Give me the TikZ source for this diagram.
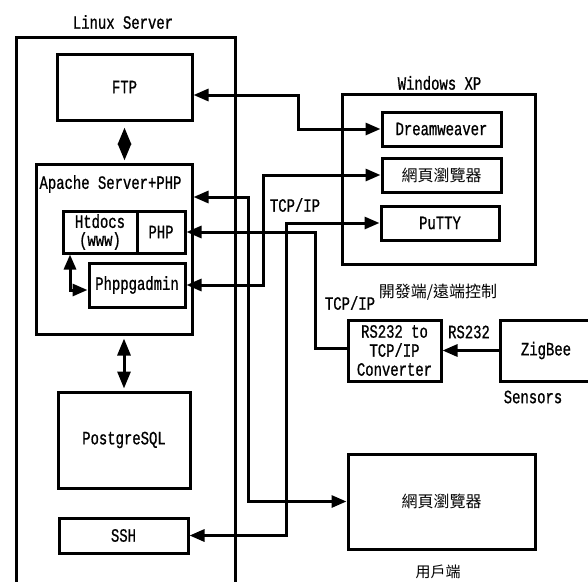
\documentclass[tikz,border=0pt]{standalone}
\usepackage{fontspec}
\setmainfont{Liberation Mono}[FakeStretch=0.74,FakeBold=0.8]
\newfontfamily\cjk{Noto Sans CJK TC}
\usetikzlibrary{arrows.meta}

\begin{document}
\begin{tikzpicture}[x=1pt,y=-1pt,
    every node/.style={font=\fontsize{18.8}{18}\selectfont},
    box/.style={draw,line width=3pt,inner sep=0pt,align=center},
    link/.style={line width=3pt},
    >={Triangle[length=15pt,width=12pt]}]
    \useasboundingbox (0,0) rectangle (588,581);

    % Linux server side
    \node[box,minimum width=219pt,minimum height=583pt] (linux) at (125.5,328.5) {};
    \node (linuxlbl) at (123,22) {Linux Server};
    \node[box,minimum width=135pt,minimum height=66pt] (ftp) at (124.5,87) {FTP};
    \node[box,minimum width=156pt,minimum height=170pt] (apache) at (114,249) {};
    \node (apachelbl) at (110.5,184) {Apache Server+PHP};
    \node[box,minimum width=74pt,minimum height=42pt,font=\fontsize{18.8}{18}\selectfont] (htdocs) at (100,232) {Htdocs\\(www)};
    \node[box,minimum width=48pt,minimum height=42pt] (php) at (161,232) {PHP};
    \node[box,minimum width=96pt,minimum height=44pt] (pgadmin) at (137,285) {Phppgadmin};
    \node[box,minimum width=132pt,minimum height=96pt] (postgres) at (124,440) {PostgreSQL};
    \node[box,minimum width=129pt,minimum height=35pt] (ssh) at (123.5,535.5) {SSH};

    % Windows XP side
    \node[box,minimum width=193pt,minimum height=170pt] (winxp) at (438.5,179) {};
    \node (winxplbl) at (439.5,83) {Windows XP};
    \node[box,minimum width=119pt,minimum height=34pt] (dream) at (441.5,129) {Dreamweaver};
    \node[box,minimum width=119pt,minimum height=34pt] (wbrowser) at (441.5,175) {\cjk\fontsize{16}{18}\selectfont 網頁瀏覽器};
    \node[box,minimum width=118pt,minimum height=34pt] (putty) at (440,223) {PuTTY};
    \node (devlbl) at (438,292) {\cjk\fontsize{16}{18}\selectfont 開發端/遠端控制};

    % sensors
    \node[box,minimum width=93pt,minimum height=61pt,font=\fontsize{18.8}{19}\selectfont] (conv) at (394.5,350.5) {RS232 to\\TCP/IP\\Converter};
    \node[box,minimum width=92pt,minimum height=61pt] (zigbee) at (546,350.5) {ZigBee};
    \node (sensorlbl) at (533,397) {Sensors};
    \node (rslbl) at (469,332) {RS232};

    % user side
    \node[box,minimum width=187pt,minimum height=95pt] (ubrowser) at (441.5,501.5) {\cjk\fontsize{16}{18}\selectfont 網頁瀏覽器};
    \node (userlbl) at (438,572) {\cjk\fontsize{15}{18}\selectfont 用戶端};

    \node (tcplbla) at (295,205) {TCP/IP};
    \node (tcplblb) at (350,303) {TCP/IP};

    % connectors
    \draw[link,{Triangle[length=17pt,width=13pt]}-{Triangle[length=17pt,width=13pt]}] (ftp.south) ++(0,6) -- ([yshift=2pt]ftp.south |- apache.north);
    \draw[link,{Triangle[length=17pt,width=13pt]}-{Triangle[length=17pt,width=13pt]}] ([yshift=-3pt]postgres.north |- apache.south) -- ([yshift=2pt]postgres.north);
    \draw[link,<->] (htdocs.south -| 70,0) |- ([yshift=-5pt]pgadmin.west);
    \draw[link,<->] ([yshift=-8pt]ftp.east) -| (298,129) -- (dream.west);
    \draw[link,<->] (pgadmin.east) -| (263,175) -- (wbrowser.west);
    \draw[link,<->] (apache.east |- 0,197) -| (248,501.5) -- (ubrowser.west);
    \draw[link,<-] (php.east) -| (315,348) -- (conv.west |- 0,348);
    \draw[link,<->] (ssh.east) -| (286,223) -- (putty.west);
    \draw[link,->] (zigbee.west) -- (conv.east);
\end{tikzpicture}
\end{document}
